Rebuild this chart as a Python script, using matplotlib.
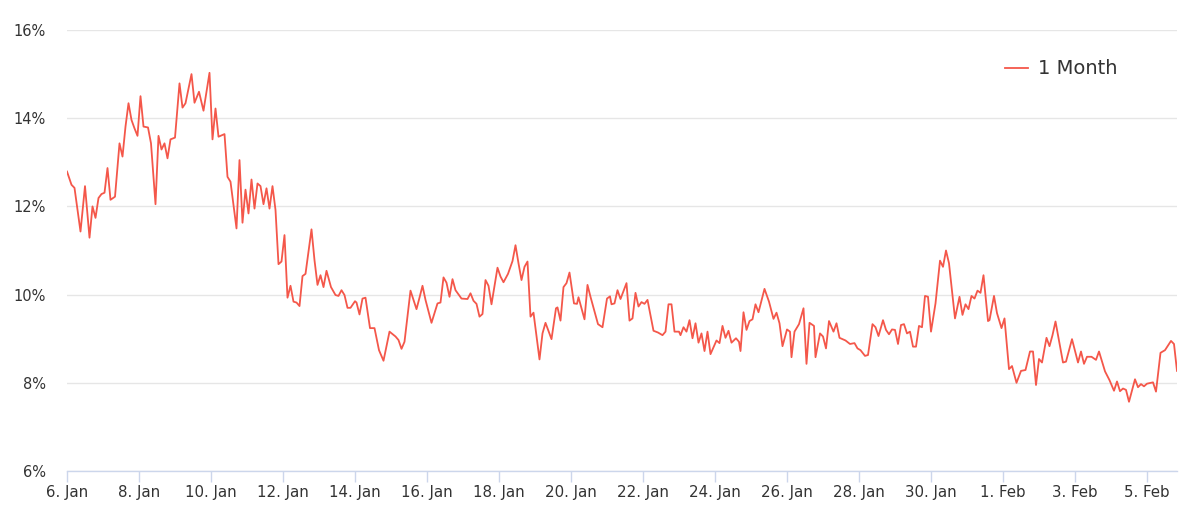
import matplotlib
matplotlib.use("Agg")
import matplotlib.pyplot as plt

# hours since 6 Jan 00:00
hours = [0, 3, 5, 9, 12, 15, 17, 19, 21, 23, 25, 27, 29, 32, 35, 37, 39, 41, 43, 45, 47, 49, 51, 54, 56, 59,
         61, 63, 65, 67, 69, 72, 75, 77, 79, 83, 85, 88, 91, 95, 97, 99, 101, 105, 107, 109, 113, 115, 117,
         119, 121, 123, 125, 127, 129, 131, 133, 135, 137, 139, 141, 143, 145, 147, 149, 151, 153, 155, 157,
         159, 163, 165, 167, 169, 171, 173, 176, 179, 181, 183, 185, 187, 189, 192, 193, 195, 197, 199, 202,
         205, 208, 211, 215, 219, 221, 223, 225, 229, 233, 235, 237, 239, 243, 247, 249, 251, 253, 255, 257,
         259, 263, 267, 269, 271, 273, 275, 277, 279, 281, 283, 287, 289, 291, 294, 297, 299, 301, 303, 305,
         307, 309, 311, 315, 317, 319, 323, 326, 327, 329, 331, 333, 335, 338, 340, 341, 345, 347, 349, 352,
         354, 357, 360, 362, 363, 365, 367, 369, 373, 375, 377, 379, 381, 383, 385, 387, 391, 394, 397, 399,
         401, 403, 405, 408, 409, 411, 413, 415, 417, 419, 421, 423, 425, 427, 429, 433, 435, 437, 439, 441,
         443, 446, 448, 449, 451, 453, 455, 457, 459, 461, 465, 468, 471, 473, 475, 477, 480, 482, 483, 485,
         488, 491, 493, 495, 498, 499, 502, 504, 506, 508, 511, 513, 515, 519, 522, 525, 527, 529, 532, 534,
         537, 539, 541, 544, 546, 548, 550, 552, 554, 556, 558, 560, 562, 564, 566, 568, 570, 572, 574, 576,
         579, 582, 584, 586, 588, 592, 595, 597, 599, 601, 603, 605, 607, 609, 611, 614, 615, 618, 620, 623,
         625, 628, 630, 633, 636, 639, 642, 644, 646, 648, 650, 653, 655, 657, 659, 664, 666, 670, 674, 676,
         678, 680, 683, 686, 688, 692, 695, 698, 700, 702, 704, 706, 708, 712, 714, 716, 718, 720, 724, 726,
         729, 732, 736, 738, 740]

vol_1m = [12.79, 12.49, 12.42, 11.43, 12.46, 11.29, 12.00, 11.74, 12.19, 12.28, 12.31, 12.87, 12.15, 12.22,
          13.43, 13.13, 13.81, 14.34, 13.96, 13.77, 13.60, 14.50, 13.81, 13.79, 13.43, 12.05, 13.60, 13.29,
          13.43, 13.09, 13.52, 13.56, 14.79, 14.24, 14.34, 15.00, 14.35, 14.60, 14.17, 15.03, 13.52, 14.22,
          13.58, 13.64, 12.67, 12.56, 11.50, 13.05, 11.63, 12.38, 11.84, 12.61, 11.95, 12.52, 12.46, 12.05,
          12.41, 11.95, 12.46, 11.92, 10.69, 10.75, 11.35, 9.93, 10.20, 9.84, 9.82, 9.74, 10.42, 10.47, 11.48,
          10.78, 10.22, 10.44, 10.17, 10.54, 10.17, 9.99, 9.97, 10.10, 9.99, 9.70, 9.70, 9.85, 9.82, 9.55,
          9.91, 9.93, 9.24, 9.24, 8.74, 8.50, 9.16, 9.05, 8.97, 8.77, 8.93, 10.09, 9.67, 9.93, 10.20, 9.88,
          9.36, 9.80, 9.82, 10.39, 10.27, 9.95, 10.35, 10.10, 9.91, 9.90, 10.03, 9.86, 9.79, 9.50, 9.56,
          10.33, 10.20, 9.78, 10.61, 10.41, 10.28, 10.47, 10.76, 11.12, 10.71, 10.33, 10.63, 10.75, 9.50,
          9.59, 8.53, 9.12, 9.36, 8.99, 9.69, 9.71, 9.41, 10.17, 10.26, 10.50, 9.80, 9.79, 9.94, 9.44, 10.22,
          9.95, 9.58, 9.33, 9.26, 9.91, 9.96, 9.78, 9.80, 10.10, 9.90, 10.26, 9.41, 9.46, 10.04, 9.73, 9.83,
          9.79, 9.88, 9.18, 9.14, 9.08, 9.16, 9.78, 9.78, 9.16, 9.16, 9.08, 9.26, 9.16, 9.42, 9.01, 9.35,
          8.91, 9.12, 8.72, 9.16, 8.65, 8.96, 8.90, 9.29, 9.02, 9.18, 8.91, 9.01, 8.93, 8.72, 9.60, 9.20,
          9.40, 9.44, 9.78, 9.60, 10.13, 9.84, 9.45, 9.59, 9.35, 8.83, 9.21, 9.16, 8.58, 9.16, 9.33, 9.69,
          8.43, 9.36, 9.29, 8.58, 9.12, 9.05, 8.78, 9.40, 9.16, 9.35, 9.02, 8.96, 8.88, 8.90, 8.78, 8.74,
          8.61, 8.63, 9.33, 9.26, 9.06, 9.42, 9.20, 9.10, 9.21, 9.20, 8.88, 9.31, 9.33, 9.12, 9.16, 8.82,
          8.82, 9.29, 9.26, 9.97, 9.95, 9.16, 9.80, 10.77, 10.63, 11.00, 10.71, 9.46, 9.95, 9.54, 9.78, 9.67,
          9.97, 9.91, 10.09, 10.04, 10.44, 9.40, 9.42, 9.97, 9.58, 9.24, 9.46, 8.31, 8.38, 8.00, 8.27, 8.29,
          8.71, 8.71, 7.95, 8.54, 8.46, 9.02, 8.83, 9.08, 9.39, 8.46, 8.48, 8.99, 8.46, 8.71, 8.43, 8.59,
          8.59, 8.52, 8.71, 8.26, 8.06, 7.82, 8.03, 7.81, 7.87, 7.84, 7.57, 8.08, 7.90, 7.97, 7.92, 7.98,
          8.01, 7.80, 8.68, 8.74, 8.95, 8.88, 8.27]

tick_labels = ["6. Jan", "8. Jan", "10. Jan", "12. Jan", "14. Jan", "16. Jan", "18. Jan", "20. Jan",
               "22. Jan", "24. Jan", "26. Jan", "28. Jan", "30. Jan", "1. Feb", "3. Feb", "5. Feb"]
y_ticks = [6, 8, 10, 12, 14, 16]
series_name = "1 Month"

W, H = 1188, 515
fig = plt.figure(figsize=(W / 100, H / 100), dpi=100)
ax = fig.add_axes([67 / W, (H - 471) / H, (1177 - 67) / W, (471 - 30) / H])

ax.plot(hours, vol_1m, color="#f4574a", lw=1.3, label=series_name, solid_joinstyle="round")

ax.set_xlim(0, hours[-1])
ax.set_ylim(6, 16)
ax.set_yticks(y_ticks)
ax.set_yticklabels([f"{v}%" for v in y_ticks])
ax.set_xticks([48 * i for i in range(len(tick_labels))])
ax.set_xticklabels(tick_labels)

for s in ["top", "right", "left"]:
    ax.spines[s].set_visible(False)
ax.spines["bottom"].set_color("#ccd6eb")
ax.spines["bottom"].set_linewidth(1)
ax.grid(axis="y", color="#e6e6e6", lw=1)
ax.set_axisbelow(True)
ax.tick_params(axis="y", length=0, pad=15, labelsize=10.5, labelcolor="#333333")
ax.tick_params(axis="x", length=8, width=1, color="#ccd6eb", pad=2, labelsize=10.8, labelcolor="#333333")

leg = ax.legend(loc="center right", bbox_to_anchor=(0.946, (471 - 69) / 441), frameon=False, fontsize=14,
                handlelength=1.15, handletextpad=0.5, borderpad=0, borderaxespad=0)
for t in leg.get_texts():
    t.set_color("#333333")

fig.savefig("out.png", dpi=100, facecolor="white")
